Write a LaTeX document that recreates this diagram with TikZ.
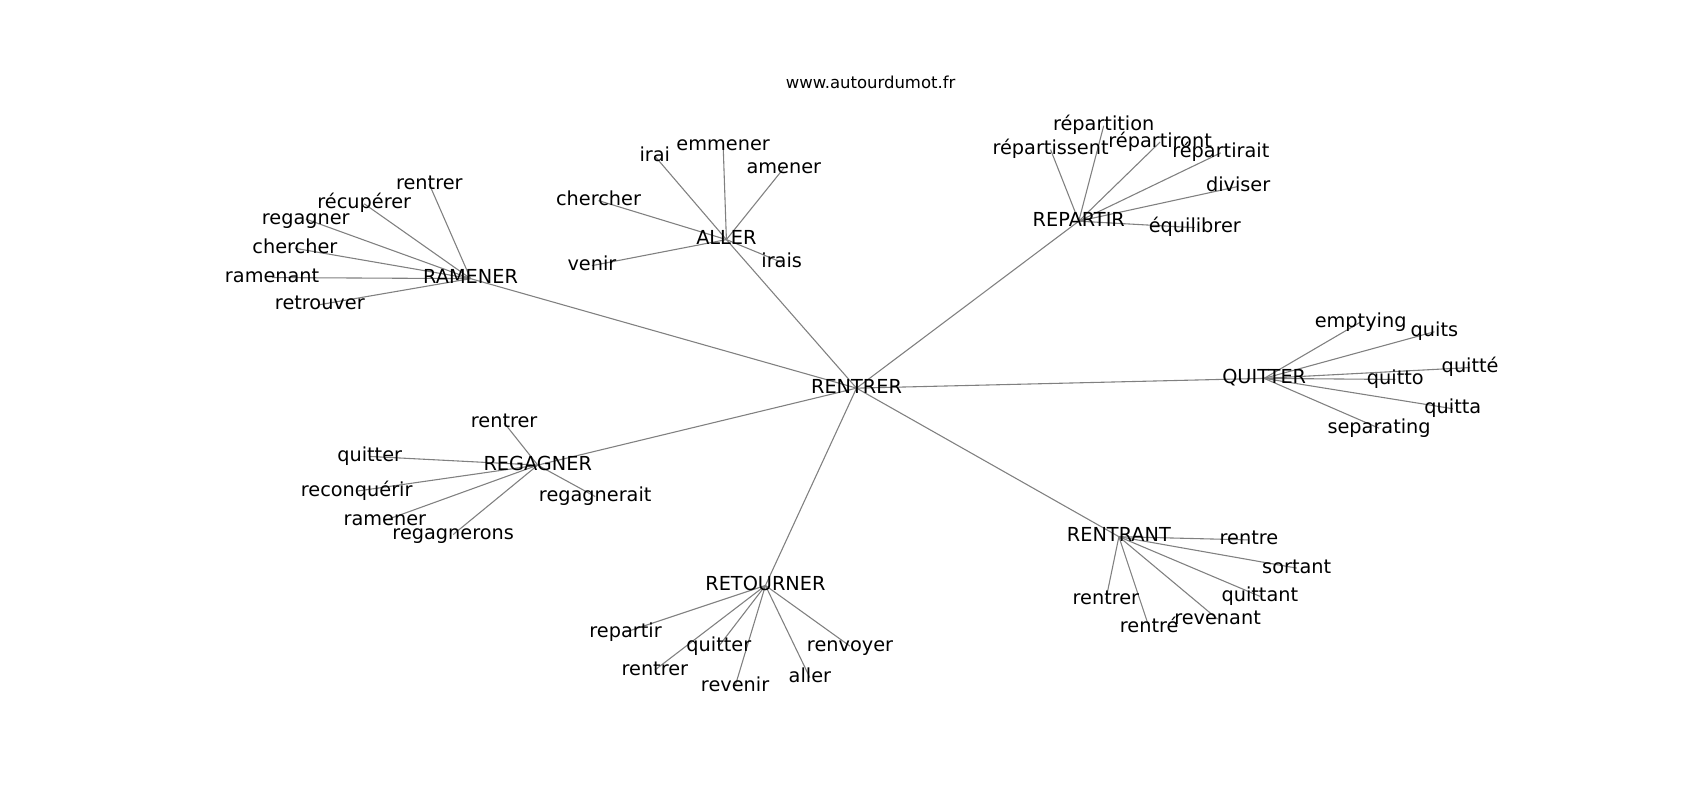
\documentclass[tikz,border=0pt]{standalone}
\usepackage{fontspec}
\setmainfont{DejaVu Sans}
\pgfdeclarelayer{bg}
\pgfsetlayers{bg,main}
\tikzset{
  w/.style={inner sep=0pt, font=\fontsize{17.8}{20}\selectfont, text height=13.5pt, text depth=4.2pt, anchor=center},
  ttl/.style={inner sep=0pt, font=\fontsize{15.2}{18}\selectfont, text height=11.5pt, text depth=3.6pt, anchor=center},
  e/.style={draw=gray, line width=1pt}
}
\begin{document}
\begin{tikzpicture}[x=1pt,y=-1pt]
\useasboundingbox (0,0) rectangle (1568,738);
\begin{scope}[shift={(0,2)}]
\node[ttl] (title) at (803,76) {www.autourdumot.fr};
% hubs
\node[w] (c) at (790,356) {RENTRER};
\node[w] (ram) at (434,255) {RAMENER};
\node[w] (all) at (670,219) {ALLER};
\node[w] (rep) at (995,202) {REPARTIR};
\node[w] (qui) at (1166,347) {QUITTER};
\node[w] (rnt) at (1032,493) {RENTRANT};
\node[w] (ret) at (706,538) {RETOURNER};
\node[w] (reg) at (496,427) {REGAGNER};
% RAMENER leaves
\node[w] (ram1) at (396,168) {rentrer};
\node[w] (ram2) at (336,186) {récupérer};
\node[w] (ram3) at (282,200) {regagner};
\node[w] (ram4) at (272,227) {chercher};
\node[w] (ram5) at (251,254) {ramenant};
\node[w] (ram6) at (295,279) {retrouver};
% ALLER leaves
\node[w] (all1) at (604,142) {irai};
\node[w] (all2) at (667,132) {emmener};
\node[w] (all3) at (723,153) {amener};
\node[w] (all4) at (552,183) {chercher};
\node[w] (all5) at (546,243) {venir};
\node[w] (all6) at (721,240) {irais};
% REPARTIR leaves
\node[w] (rep1) at (1018,114) {répartition};
\node[w] (rep2) at (969,136) {répartissent};
\node[w] (rep3) at (1070,129) {répartiront};
\node[w] (rep4) at (1126,139) {répartirait};
\node[w] (rep5) at (1142,170) {diviser};
\node[w] (rep6) at (1102,208) {équilibrer};
% QUITTER leaves
\node[w] (qui1) at (1255,295) {emptying};
\node[w] (qui2) at (1323,304) {quits};
\node[w] (qui3) at (1356,337) {quitté};
\node[w] (qui4) at (1287,348) {quitto};
\node[w] (qui5) at (1340,375) {quitta};
\node[w] (qui6) at (1272,393) {separating};
% RENTRANT leaves
\node[w] (rnt1) at (1152,496) {rentre};
\node[w] (rnt2) at (1196,522) {sortant};
\node[w] (rnt3) at (1162,548) {quittant};
\node[w] (rnt4) at (1123,569) {revenant};
\node[w] (rnt5) at (1020,551) {rentrer};
\node[w] (rnt6) at (1060,577) {rentré};
% RETOURNER leaves
\node[w] (ret1) at (577,581) {repartir};
\node[w] (ret2) at (663,594) {quitter};
\node[w] (ret3) at (784,594) {renvoyer};
\node[w] (ret4) at (604,616) {rentrer};
\node[w] (ret5) at (678,631) {revenir};
\node[w] (ret6) at (747,623) {aller};
% REGAGNER leaves
\node[w] (reg1) at (465,388) {rentrer};
\node[w] (reg2) at (341,419) {quitter};
\node[w] (reg3) at (329,451) {reconquérir};
\node[w] (reg4) at (549,456) {regagnerait};
\node[w] (reg5) at (355,478) {ramener};
\node[w] (reg6) at (418,491) {regagnerons};
\begin{pgfonlayer}{bg}
\foreach \h in {ram,all,rep,qui,rnt,ret,reg}{
  \draw[e] (c.center) -- (\h.center);
  \foreach \i in {1,...,6}{
    \draw[e] (\h.center) -- (\h\i.center);
  }
}
\end{pgfonlayer}
\end{scope}
\end{tikzpicture}
\end{document}
